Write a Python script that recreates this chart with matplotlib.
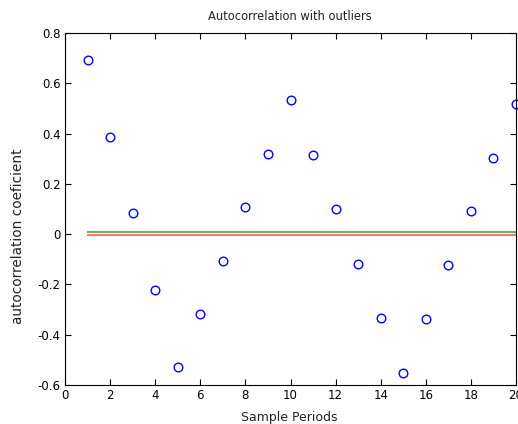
import matplotlib
matplotlib.use("Agg")
import matplotlib.pyplot as plt

lags = list(range(1, 21))
acf = [0.693, 0.385, 0.083, -0.224, -0.530, -0.318, -0.106, 0.109, 0.320, 0.533,
       0.316, 0.100, -0.118, -0.335, -0.551, -0.338, -0.122, 0.092, 0.304, 0.516]
upper_ref = 0.01
lower_ref = -0.002
xticks = [0, 2, 4, 6, 8, 10, 12, 14, 16, 18, 20]
yticks = [-0.6, -0.4, -0.2, 0, 0.2, 0.4, 0.6, 0.8]
ytick_labels = ["-0.6", "-0.4", "-0.2", "0", "0.2", "0.4", "0.6", "0.8"]

plt.rcParams['font.family'] = ['DejaVu Sans']
W, H = 518, 424
fig = plt.figure(figsize=(W / 100, H / 100), dpi=100)
ax = fig.add_axes([65 / W, 39 / H, 451 / W, 352 / H])

ax.plot([lags[0], lags[-1]], [upper_ref, upper_ref], color='#66b266', lw=1.5)
ax.plot([lags[0], lags[-1]], [lower_ref, lower_ref], color='#ff7777', lw=1.5)
ax.plot(lags, acf, 'o', mfc='none', mec='blue', ms=6.2, mew=1.0, clip_on=False)

ax.set_xlim(0, 20)
ax.set_ylim(-0.6, 0.8)
ax.set_xticks(xticks)
ax.set_xticklabels([str(t) for t in xticks])
ax.set_yticks(yticks)
ax.set_yticklabels(ytick_labels)
ax.tick_params(direction='in', top=True, right=True, labelsize=8.5, length=4, width=0.8, pad=3)
for s in ax.spines.values():
    s.set_linewidth(0.8)

fig.text(290 / W, 1 - 17 / H, "Autocorrelation with outliers", fontsize=8.3,
         ha='center', va='center', color='#222222')
fig.text(289 / W, 1 - 417 / H, "Sample Periods", fontsize=9, ha='center', va='center',
         color='#222222')
fig.text(18 / W, 1 - 236 / H, "autocorrelation coeficient", fontsize=9.8, rotation=90,
         ha='center', va='center', color='#222222')

fig.savefig("out.png", dpi=100)
